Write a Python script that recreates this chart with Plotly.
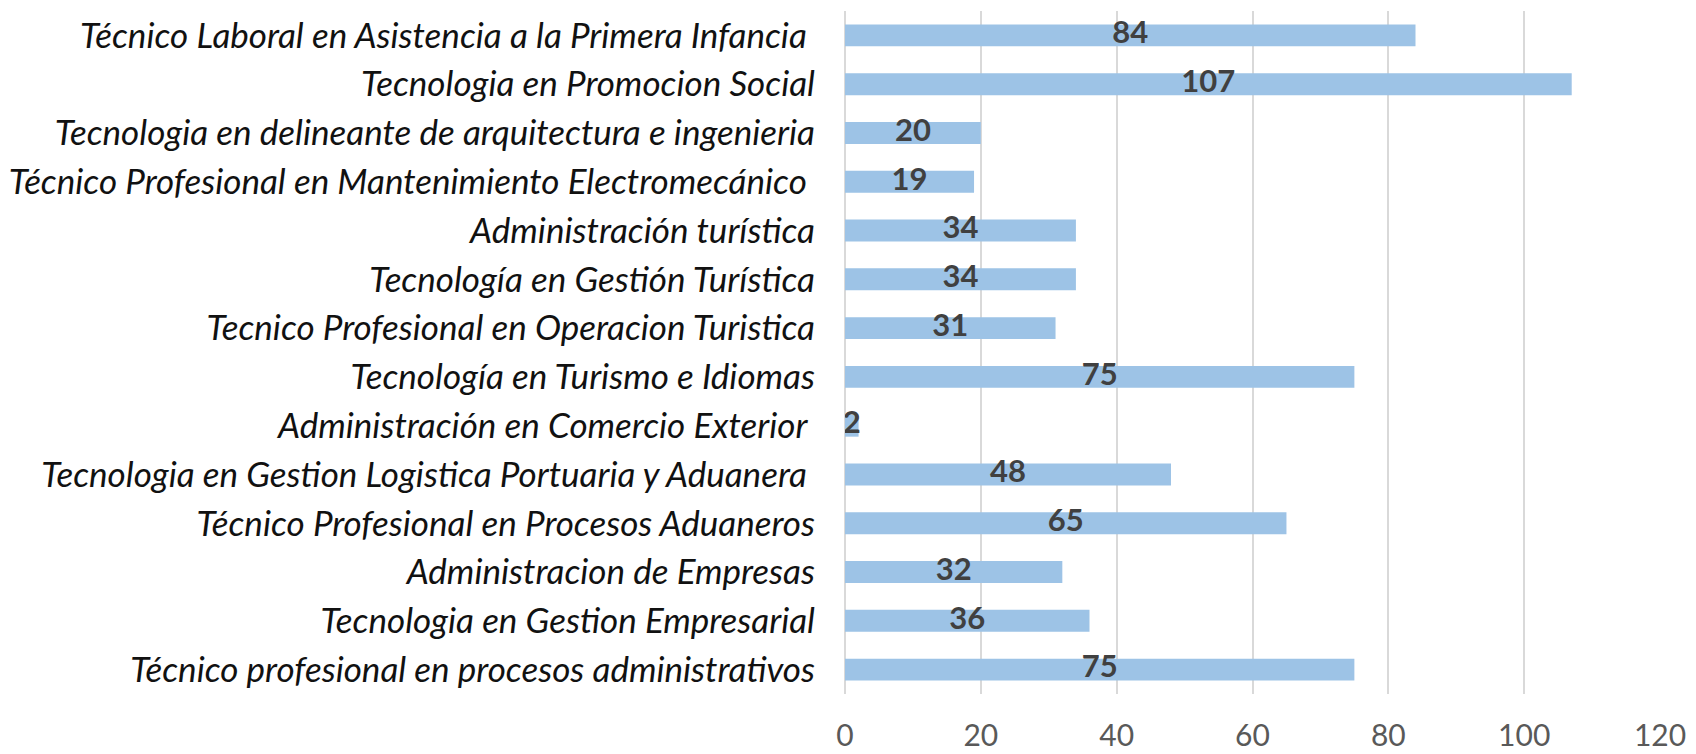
import plotly.graph_objects as go

categories = [
    "Técnico Laboral en Asistencia a la Primera Infancia\u00a0",
    "Tecnologia en Promocion Social",
    "Tecnologia en delineante de arquitectura e ingenieria",
    "Técnico Profesional en Mantenimiento Electromecánico\u00a0",
    "Administración turística",
    "Tecnología en Gestión Turística",
    "Tecnico Profesional en Operacion Turistica",
    "Tecnología en Turismo e Idiomas",
    "Administración en Comercio Exterior\u00a0",
    "Tecnologia en Gestion Logistica Portuaria y Aduanera\u00a0",
    "Técnico Profesional en Procesos Aduaneros",
    "Administracion de Empresas",
    "Tecnologia en Gestion Empresarial",
    "Técnico profesional en procesos administrativos",
]
values = [84, 107, 20, 19, 34, 34, 31, 75, 2, 48, 65, 32, 36, 75]
x_ticks = [0, 20, 40, 60, 80, 100, 120]

fig = go.Figure()
fig.add_trace(go.Bar(
    x=values, y=categories, orientation="h",
    marker=dict(color="#9DC3E6", line=dict(width=0)),
    hoverinfo="x+y", showlegend=False,
))
fig.add_trace(go.Scatter(
    x=[v / 2 for v in values], y=categories, mode="text",
    text=[str(v) for v in values],
    textfont=dict(family="Lato", size=31, color="#404040", weight="bold"),
    textposition="middle center", showlegend=False, hoverinfo="skip",
))

fig.update_layout(
    width=1696, height=754,
    margin=dict(l=845, r=36, t=11, b=60),
    paper_bgcolor="white", plot_bgcolor="white",
    bargap=0.55,
    font=dict(family="Lato"),
)
fig.update_xaxes(
    range=[0, 120], tickvals=x_ticks, ticktext=[str(t) for t in x_ticks],
    showgrid=True, gridcolor="#D9D9D9", gridwidth=1.5,
    zeroline=True, zerolinecolor="#D9D9D9", zerolinewidth=1.5,
    showline=False, ticks="", automargin=False,
    tickfont=dict(family="Lato", size=30, color="#595959"),
    ticklabelstandoff=21,
)
fig.update_yaxes(
    range=[len(categories) - 0.5, -0.5],
    categoryorder="array", categoryarray=categories,
    showgrid=False, showline=False, ticks="", automargin=False,
    tickfont=dict(family="Lato", size=35, color="#111111", style="italic"),
    ticklabelstandoff=29,
)

fig.write_html(
    "out.html",
    config={"displayModeBar": False},
    post_script="document.body.style.margin='0';document.body.style.overflow='hidden';",
)
